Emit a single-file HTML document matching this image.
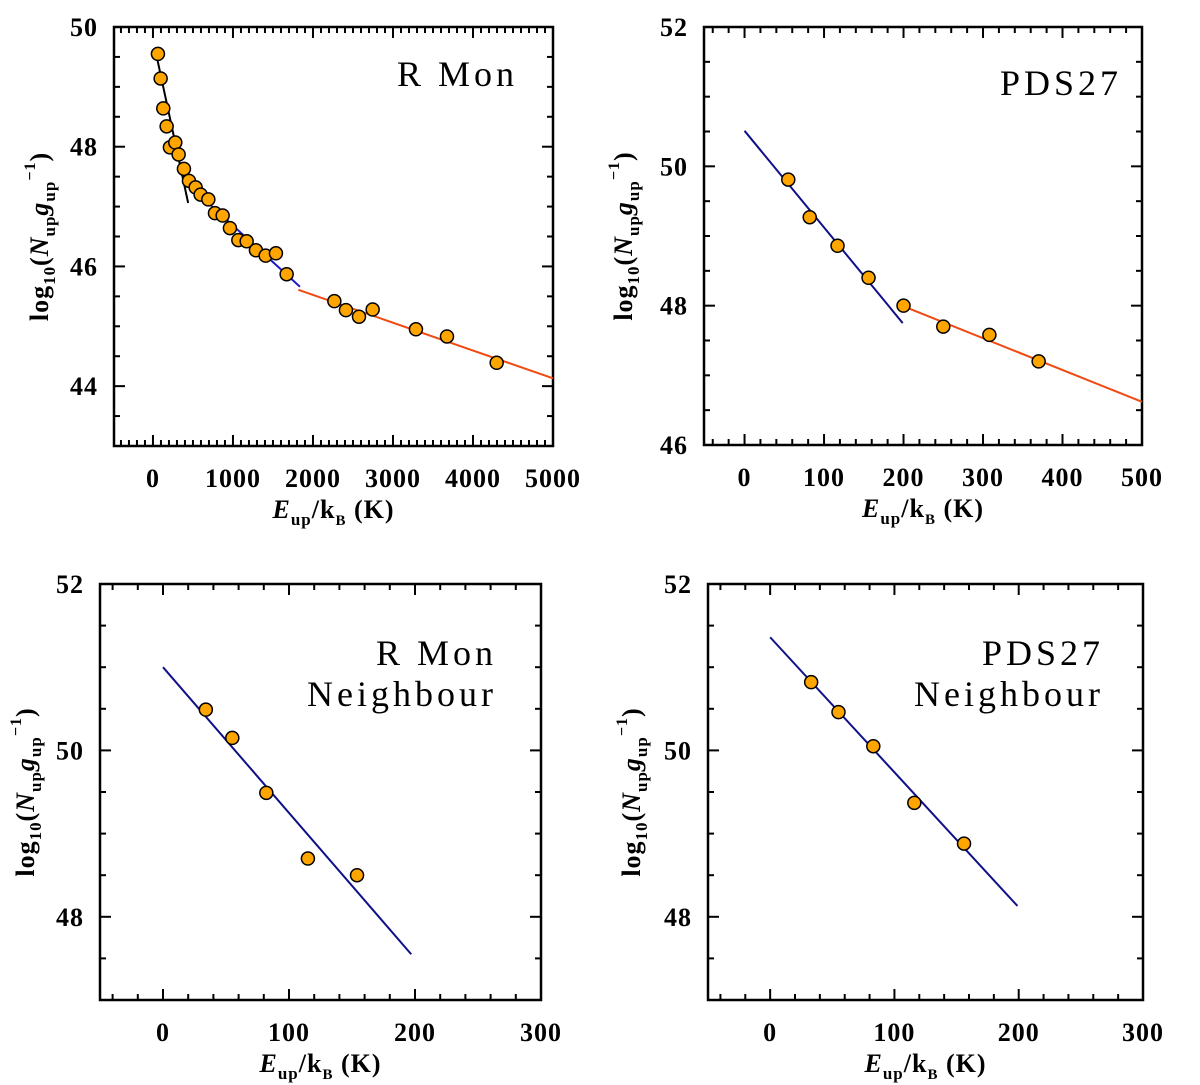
<!DOCTYPE html>
<html><head><meta charset="utf-8"><style>
body{margin:0;background:#fff;overflow:hidden;}
svg{display:block;}
text{font-family:"Liberation Serif","DejaVu Serif",serif;fill:#000;}
.tick{font-weight:bold;font-size:26px;letter-spacing:1px;}
.ttl{font-size:36px;letter-spacing:4px;}
.ax{font-weight:bold;font-size:26px;letter-spacing:1px;}
</style></head><body>
<svg id="fig" width="1200" height="1085" viewBox="0 0 1200 1085" xmlns="http://www.w3.org/2000/svg"></svg>
<script>
// Panel A: R Mon
const rmonE = [62,96,129,171,212,279,321,387,450,533,596,692,775,871,962,1067,1171,1287,1408,1537,1671,2267,2412,2575,2746,3287,3675,4296];
const rmonN = [49.55,49.14,48.64,48.34,47.99,48.07,47.87,47.63,47.43,47.32,47.20,47.12,46.89,46.85,46.64,46.44,46.42,46.27,46.18,46.22,45.87,45.42,45.27,45.16,45.28,44.95,44.83,44.39];
const rmonFitBlackE = [40,440];   const rmonFitBlackN = [49.55,47.06];
const rmonFitBlueE = [462,1837];  const rmonFitBlueN = [47.34,45.66];
const rmonFitRedE = [1817,5000];  const rmonFitRedN = [45.61,44.13];
const rmonXTicks = [0,1000,2000,3000,4000,5000];
const rmonYTicks = [44,46,48,50];
// Panel B: PDS27
const pdsE = [55,82,117,156,200,250,308,370];
const pdsN = [49.81,49.27,48.86,48.40,48.00,47.70,47.58,47.20];
const pdsFitBlueE = [0,199];  const pdsFitBlueN = [50.51,47.75];
const pdsFitRedE = [200,500]; const pdsFitRedN = [47.99,46.62];
const pdsXTicks = [0,100,200,300,400,500];
const pdsYTicks = [46,48,50,52];
// Panel C: R Mon Neighbour
const rnE = [34,55,82,115,154];
const rnN = [50.49,50.15,49.49,48.70,48.50];
const rnFitE = [0,197]; const rnFitN = [51.0,47.55];
// Panel D: PDS27 Neighbour
const pnE = [33,55,83,116,156];
const pnN = [50.82,50.46,50.05,49.37,48.88];
const pnFitE = [0,199]; const pnFitN = [51.36,48.13];
const nbXTicks = [0,100,200,300];
const nbYTicks = [48,50,52];

const NS="http://www.w3.org/2000/svg";
const svg=document.getElementById('fig');
function mk(tag,attrs,parent){const e=document.createElementNS(NS,tag);for(const k in attrs)e.setAttribute(k,attrs[k]);(parent||svg).appendChild(e);return e;}

function panel(o){
  const g=mk('g',{});
  
  
  const sx=v=>o.x0+(v-o.xmin)/(o.xmax-o.xmin)*(o.x1-o.x0);
  const sy=v=>o.y1-(v-o.ymin)/(o.ymax-o.ymin)*(o.y1-o.y0);
  for(let v=Math.ceil(o.xmin/o.xminor)*o.xminor; v<=o.xmax+1e-9; v+=o.xminor){
    const X=sx(v);const major=Math.abs(v/o.xmajor-Math.round(v/o.xmajor))<1e-6;const L=major?11:6;
    mk('line',{x1:X,y1:o.y1,x2:X,y2:o.y1-L,stroke:'#000','stroke-width':2},g);
    mk('line',{x1:X,y1:o.y0,x2:X,y2:o.y0+L,stroke:'#000','stroke-width':2},g);
  }
  for(let v=Math.ceil(o.ymin/o.yminor)*o.yminor; v<=o.ymax+1e-9; v+=o.yminor){
    const Y=sy(v);const major=Math.abs(v/o.ymajor-Math.round(v/o.ymajor))<1e-6;const L=major?11:6;
    mk('line',{x1:o.x0,y1:Y,x2:o.x0+L,y2:Y,stroke:'#000','stroke-width':2},g);
    mk('line',{x1:o.x1,y1:Y,x2:o.x1-L,y2:Y,stroke:'#000','stroke-width':2},g);
  }
  const box=mk('rect',{x:o.x0,y:o.y0,width:o.x1-o.x0,height:o.y1-o.y0,fill:'none',stroke:'#000','stroke-width':2.5},g);
  
  
  o.xticks.forEach(v=>{const t=mk('text',{x:sx(v),y:o.y1+41,'text-anchor':'middle',class:'tick'},g);t.textContent=v;
    
    });
  o.yticks.forEach(v=>{const t=mk('text',{x:o.x0-16,y:sy(v)+9,'text-anchor':'end',class:'tick'},g);t.textContent=v;
    
    });
  const xt=mk('text',{x:(o.x0+o.x1)/2,y:o.y1+72,'text-anchor':'middle',class:'ax'},g);
  xt.innerHTML='<tspan font-style="italic">E</tspan><tspan font-size="17" dy="7">up</tspan><tspan dy="-7">/k</tspan><tspan font-size="15" dy="7">B</tspan><tspan dy="-7"> (K)</tspan>';
  
  
  const cy=(o.y0+o.y1)/2, cx=o.ytx;
  const yt=mk('text',{x:cx,y:cy,'text-anchor':'middle',class:'ax',transform:`rotate(-90 ${cx} ${cy})`},g);
  yt.innerHTML='log<tspan font-size="17" dy="7">10</tspan><tspan dy="-7">(</tspan><tspan font-style="italic">N</tspan><tspan font-size="17" dy="7">up</tspan><tspan font-style="italic" dy="-7">g</tspan><tspan font-size="17" dy="7">up</tspan><tspan font-size="16" dy="-20">−1</tspan><tspan dy="13">)</tspan>';
  
  
  o.fits.forEach(f=>{const l=mk('line',{x1:sx(f.e[0]),y1:sy(f.n[0]),x2:sx(f.e[1]),y2:sy(f.n[1]),stroke:f.c,'stroke-width':2},g);
    
    });
  o.E.forEach((e,i)=>{const c=mk('circle',{cx:sx(e),cy:sy(o.N[i]),r:6.5,fill:'#ffa500',stroke:'#000','stroke-width':1.5},g);
    
    });
  o.title.forEach((s,i)=>{const t=mk('text',{x:o.tx,y:o.ty+i*41,'text-anchor':'end',class:'ttl'},g);t.textContent=s;
    
    });
}
panel({name:'panel-r-mon',x0:114,x1:553,y0:27,y1:446,xmin:-487,xmax:5000,ymin:43,ymax:50,xmajor:1000,xminor:100,ymajor:2,yminor:0.5,
  xticks:rmonXTicks,yticks:rmonYTicks,E:rmonE,N:rmonN,ytx:48,title:['R Mon'],tx:518,ty:86,
  fits:[{e:rmonFitBlackE,n:rmonFitBlackN,c:'#000',name:'fit-line-black'},{e:rmonFitBlueE,n:rmonFitBlueN,c:'#1a1acc',name:'fit-line-blue'},{e:rmonFitRedE,n:rmonFitRedN,c:'#f04a10',name:'fit-line-red'}]});
panel({name:'panel-pds27',x0:704,x1:1142,y0:27,y1:445,xmin:-51,xmax:500,ymin:46,ymax:52,xmajor:100,xminor:20,ymajor:2,yminor:0.5,
  xticks:pdsXTicks,yticks:pdsYTicks,E:pdsE,N:pdsN,ytx:632,title:['PDS27'],tx:1122,ty:95,
  fits:[{e:pdsFitBlueE,n:pdsFitBlueN,c:'#10108a',name:'fit-line-blue'},{e:pdsFitRedE,n:pdsFitRedN,c:'#f04a10',name:'fit-line-red'}]});
panel({name:'panel-r-mon-neighbour',x0:100,x1:541,y0:584,y1:1000,xmin:-50,xmax:300,ymin:47,ymax:52,xmajor:100,xminor:20,ymajor:2,yminor:0.5,
  xticks:nbXTicks,yticks:nbYTicks,E:rnE,N:rnN,ytx:34,title:['R Mon','Neighbour'],tx:497,ty:665,
  fits:[{e:rnFitE,n:rnFitN,c:'#10108a',name:'fit-line-blue'}]});
panel({name:'panel-pds27-neighbour',x0:708,x1:1143,y0:584,y1:1000,xmin:-50,xmax:300,ymin:47,ymax:52,xmajor:100,xminor:20,ymajor:2,yminor:0.5,
  xticks:nbXTicks,yticks:nbYTicks,E:pnE,N:pnN,ytx:640,title:['PDS27','Neighbour'],tx:1104,ty:665,
  fits:[{e:pnFitE,n:pnFitN,c:'#10108a',name:'fit-line-blue'}]});
</script>
</body></html>
